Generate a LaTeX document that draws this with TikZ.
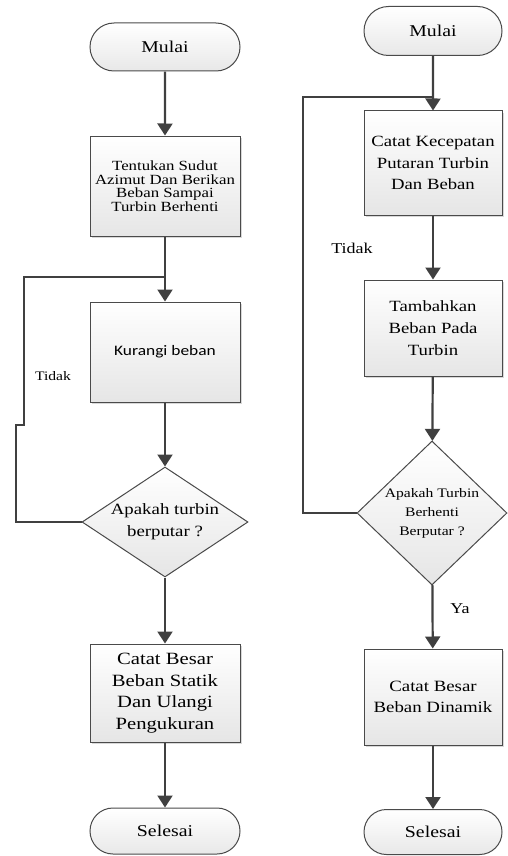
\documentclass[tikz,border=0pt]{standalone}
\usepackage{fontspec}
\setmainfont{Liberation Serif}[FakeStretch=1.2]
\newfontfamily\kurfont{Carlito}[FakeStretch=1.2]
\usetikzlibrary{arrows.meta,shapes.geometric,shapes.misc,shadows}
\definecolor{linegray}{HTML}{404040}
\definecolor{edgegray}{HTML}{4A4A4A}

\begin{document}
\begin{tikzpicture}[
    x=1pt, y=-1pt,
    >={Triangle[length=12pt,width=15pt]},
    term/.style={
        draw=edgegray,
        line width=1pt,
        rounded rectangle,
        top color=white,
        bottom color=black!9,
        minimum width=150pt,
        minimum height=48pt,
        inner sep=0pt,
        font=\fontsize{16.5}{19}\selectfont
    },
    proc/.style={
        draw=edgegray,
        line width=1pt,
        top color=white,
        bottom color=black!10,
        drop shadow={shadow xshift=2pt, shadow yshift=-2pt, fill=black!30, opacity=.5},
        minimum width=150pt,
        minimum height=100pt,
        inner sep=0pt,
        align=center
    },
    decision/.style={
        draw=edgegray,
        line width=1pt,
        diamond,
        top color=white,
        bottom color=black!10,
        inner sep=0pt
    },
    arr/.style={->, line width=2.2pt, draw=linegray},
    link/.style={line width=2.2pt, draw=linegray}
]

    \useasboundingbox (0,0) rectangle (508,856);

    % Left flow
    \node[term] (startA) at (165,47) {Mulai};

    \node[
        proc,
        font=\fontsize{14}{13.5}\selectfont
    ] (setA) at (165,186) {Tentukan Sudut\\Azimut Dan Berikan\\Beban Sampai\\Turbin Berhenti};

    \coordinate (juncA) at (165,277);

    \node[
        proc,
        font=\kurfont\fontsize{14.5}{17}\selectfont
    ] (kurang) at (165,352) {Kurangi beban};

    \node[
        decision,
        minimum width=166pt,
        minimum height=110pt,
        label={[name=askAtext, align=center, font=\fontsize{15.7}{21.7}\selectfont]center:{Apakah turbin\\berputar ?}}
    ] (askA) at (165,522) {};

    \node[
        proc,
        minimum height=98pt,
        font=\fontsize{17.2}{21.5}\selectfont
    ] (recA) at (165,693) {Catat Besar\\Beban Statik\\Dan Ulangi\\Pengukuran};

    \node[term, minimum height=46pt] (endA) at (165,831) {Selesai};

    \node[font=\fontsize{13}{15}\selectfont] (noA) at (53,376) {Tidak};

    \draw[arr] (startA) -- (setA);
    \draw[arr] (setA) -- (kurang);
    \draw[arr] (kurang) -- (askA);
    \draw[arr] (askA) -- (recA);
    \draw[arr] (recA) -- (endA);
    \draw[link] (askA.west) -| (16,425) -- (24,425) |- (juncA);

    % Right flow
    \node[term, minimum width=138pt, minimum height=49pt] (startB) at (433,31) {Mulai};

    \coordinate (juncB) at (433,97);

    \node[
        proc,
        minimum width=138pt,
        minimum height=104pt,
        font=\fontsize{15.6}{21.7}\selectfont
    ] (catB) at (433,163) {Catat Kecepatan\\Putaran Turbin\\Dan Beban};

    \node[
        proc,
        minimum width=138pt,
        minimum height=96pt,
        font=\fontsize{15.6}{21.7}\selectfont
    ] (tambah) at (433,328) {Tambahkan\\Beban Pada\\Turbin};

    \node[
        decision,
        minimum width=150pt,
        minimum height=144pt,
        label={[name=askBtext, align=center, font=\fontsize{13}{19}\selectfont]center:{Apakah Turbin\\Berhenti\\Berputar ?}}
    ] (askB) at (432,513) {};

    \node[
        proc,
        minimum width=138pt,
        minimum height=96pt,
        font=\fontsize{15.7}{21.7}\selectfont
    ] (dinB) at (433,697) {Catat Besar\\Beban Dinamik};

    \node[term, minimum width=138pt, minimum height=45pt] (endB) at (433,832) {Selesai};

    \node[font=\fontsize{15}{17}\selectfont] (noB) at (352,248) {Tidak};
    \node[font=\fontsize{15}{17}\selectfont] (yesB) at (460,609) {Ya};

    \draw[arr] (startB) -- (catB);
    \draw[arr] (catB) -- (tambah);
    \draw[arr] (tambah) -- (askB);
    \draw[arr] (askB) -- (dinB);
    \draw[arr] (dinB) -- (endB);
    \draw[link] (askB.west) -| (303,97) -- (juncB);

\end{tikzpicture}
\end{document}
